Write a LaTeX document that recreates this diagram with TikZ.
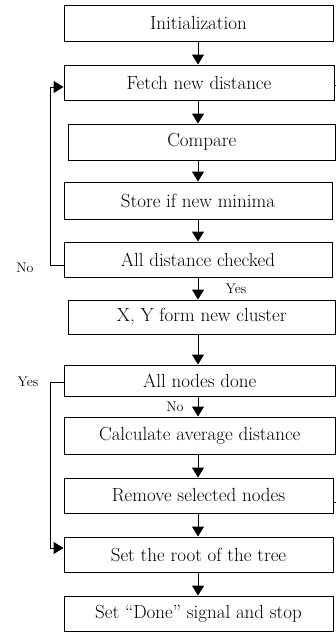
\documentclass[tikz,border=0pt]{standalone}
\usetikzlibrary{arrows.meta,calc}
\begin{document}
\begin{tikzpicture}[x=1pt,y=-1pt,
  box/.style={draw,line width=1pt,inner sep=0pt,font=\fontsize{19}{22}\selectfont},
  arr/.style={line width=1pt,-{Triangle[width=12pt,length=10pt]}},
  ln/.style={line width=1pt},
  lbl/.style={font=\fontsize{14}{16}\selectfont,inner sep=0pt}]
\useasboundingbox (0,0) rectangle (336,632);
\newcommand{\bx}[6]{\node[box,minimum width={#3-#2},minimum height={#5-#4}] (#1) at ({(#2+#3)/2},{(#4+#5)/2}) {#6};}
\bx{init}{64}{333}{5}{41}{Initialization}
\bx{fetch}{64}{334}{65}{100}{Fetch new distance}
\bx{cmp}{68}{335.5}{124}{160}{Compare}
\bx{store}{64}{332}{182}{219}{Store if new minima}
\bx{adc}{64}{332}{242}{277}{All distance checked}
\bx{xy}{68}{335.5}{300}{334}{X, Y form new cluster}
\bx{and}{64}{335.5}{365}{396}{All nodes done}
\bx{calc}{64}{335.5}{417}{454}{Calculate average distance}
\bx{rem}{64}{333}{478}{513}{Remove selected nodes}
\bx{root}{64}{333}{537}{572}{Set the root of the tree}
\bx{done}{64}{333}{596}{631}{Set ``Done'' signal and stop}
\coordinate (ax) at (198,0);
\draw[arr] (init.south -| ax) -- (fetch.north -| ax);
\draw[arr] (fetch.south -| ax) -- (cmp.north -| ax);
\draw[arr] (cmp.south -| ax) -- (store.north -| ax);
\draw[arr] (store.south -| ax) -- (adc.north -| ax);
\draw[arr] (adc.south -| ax) -- (xy.north -| ax);
\draw[arr] (xy.south -| ax) -- (and.north -| ax);
\draw[arr] (and.south -| ax) -- (calc.north -| ax);
\draw[arr] (calc.south -| ax) -- (rem.north -| ax);
\draw[arr] (rem.south -| ax) -- (root.north -| ax);
\draw[arr] (root.south -| ax) -- (done.north -| ax);
% No loop
\coordinate (lx) at (50,0);
\coordinate (noy) at (0,265);
\coordinate (fy) at (0,87);
\draw[arr] (adc.west |- noy) -- (lx |- noy) -- (lx |- fy) -- (fetch.west |- fy);
% Yes loop
\coordinate (yy) at (0,382);
\coordinate (ry) at (0,548);
\draw[arr] (and.west |- yy) -- (lx |- yy) -- (lx |- ry) -- (root.west |- ry);
% right stubs
\coordinate (re) at (336,502);
\coordinate (fe) at (336,85);
\draw[ln] (rem.east |- re) -- (re);
\draw[ln] (fe) -- (fetch.east |- fe);
% labels
\node[lbl] (no1) at (25,268) {No};
\node[lbl] (yes1) at (236,289) {Yes};
\node[lbl] (yes2) at (28,382) {Yes};
\node[lbl] (no2) at (175,407) {No};
\end{tikzpicture}
\end{document}
